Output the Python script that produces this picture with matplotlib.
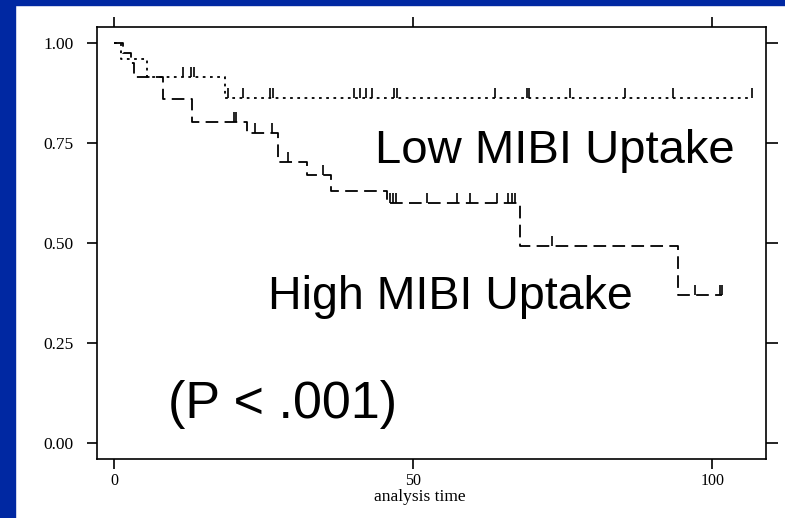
import numpy as np
import matplotlib
matplotlib.use('Agg')
import matplotlib.pyplot as plt
from matplotlib.patches import Rectangle

# Kaplan-Meier steps (time, survival)
high_times = [0, 1.5, 2.8, 3.3, 8.2, 13.0, 22.2, 27.5, 32.3, 36.3, 45.6, 67.9, 94.3]
high_surv = [1.0, 0.975, 0.95, 0.915, 0.86, 0.8025, 0.775, 0.7025, 0.67, 0.63, 0.60, 0.4925, 0.37]
high_end = 101.7
high_cens = [20.0, 20.4, 23.6, 26.4, 29.1, 35.0, 46.1, 46.6, 47.1, 52.3, 57.3,
             59.5, 64.0, 65.9, 66.5, 67.0, 73.2, 97.2, 101.3, 101.7]

low_times = [0, 1.2, 5.5, 18.6]
low_surv = [1.0, 0.96, 0.915, 0.8625]
low_end = 106.7
low_cens = [11.5, 12.9, 13.4, 19.0, 21.5, 26.0, 26.6, 40.1, 41.1, 42.1, 43.1,
            46.8, 47.3, 63.7, 69.0, 69.4, 76.2, 85.5, 93.5, 106.7]

x_ticks = [0, 50, 100]
y_ticks = [0.0, 0.25, 0.50, 0.75, 1.00]

blue = '#0028a2'
W, H = 785, 518

fig = plt.figure(figsize=(W/100, H/100), dpi=100)
fig.patch.set_facecolor('white')
fig.add_artist(Rectangle((0, 0), 15/W, 1, transform=fig.transFigure, color=blue, zorder=0))
fig.add_artist(Rectangle((0, 1-5/H), 1, 5/H, transform=fig.transFigure, color=blue, zorder=0))

ax = fig.add_axes([97/W, 1-459/H, (766-97)/W, (459-27)/H])


def km(ax, times, surv, end, cens, ls):
    t = np.append(times, end)
    s = np.append(surv, surv[-1])
    ax.step(t, s, where='post', color='black', lw=1.3, ls=ls)
    idx = np.searchsorted(times, cens, side='right') - 1
    lev = np.asarray(surv)[idx]
    ax.vlines(cens, lev, lev + 0.025, color='black', lw=1.2)


km(ax, low_times, low_surv, low_end, low_cens, (0, (1.5, 2.5)))
km(ax, high_times, high_surv, high_end, high_cens, (0, (7, 3.5)))

ax.set_xlim(-2.84, 109.0)
ax.set_ylim(-0.04, 1.04)
ax.set_xticks(x_ticks)
ax.set_yticks(y_ticks)
ax.set_yticklabels(['%.2f' % v for v in y_ticks])

for sp in ax.spines.values():
    sp.set_linewidth(1.2)
ax.tick_params(direction='out', length=7, width=1.2, top=True, right=True,
               labelfontfamily='Liberation Serif')
ax.tick_params(axis='y', pad=10, labelsize=12.5)
ax.tick_params(axis='y', which='major', length=7)
ax.tick_params(axis='x', pad=3, labelsize=11.5)
for tl in ax.yaxis.get_majorticklines()[1::2]:
    tl.set_markersize(8.5)

ax.set_xlabel('analysis time', family='Liberation Serif', fontsize=12.5)
ax.xaxis.set_label_coords(0.483, -0.07)

txt = dict(family='Liberation Sans', va='baseline', ha='left')
ax.text(43.6, 0.70, 'Low MIBI Uptake', fontsize=34, **txt)
ax.text(25.8, 0.335, 'High MIBI Uptake', fontsize=33.5, **txt)
ax.text(9.0, 0.0625, '(P < .001)', fontsize=37.5, **txt)

fig.savefig('out.png', dpi=100, facecolor='white')
